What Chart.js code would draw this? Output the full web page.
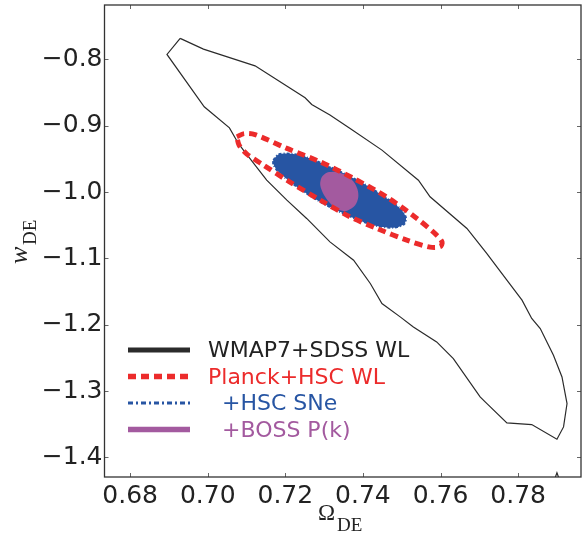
<!DOCTYPE html>
<html><head><meta charset="utf-8">
<script src="https://cdn.jsdelivr.net/npm/chart.js@4.4.1/dist/chart.umd.min.js"></script>
<style>html,body{margin:0;padding:0;background:#fff;}#wrap{position:relative;width:585px;height:535px;}canvas{display:block;}</style>
</head><body><div id="wrap"><canvas id="c" width="585" height="535"></canvas></div>
<script>
// ---- data ----
const xTickValues = [0.68, 0.70, 0.72, 0.74, 0.76, 0.78];
const xTickLabels = ['0.68', '0.70', '0.72', '0.74', '0.76', '0.78'];
const yTickValues = [-1.4, -1.3, -1.2, -1.1, -1.0, -0.9, -0.8];
const yTickLabels = ['\u22121.4', '\u22121.3', '\u22121.2', '\u22121.1', '\u22121.0', '\u22120.9', '\u22120.8'];
const seriesLabels = ['WMAP7+SDSS WL', 'Planck+HSC WL', '  +HSC SNe', '  +BOSS P(k)'];

const wmapX = [0.6929,0.6989,0.7122,0.7251,0.7268,0.7315,0.7367,0.7449,0.7543,0.7573,0.7668,0.7719,0.7771,0.7810,0.7835,0.7857,0.7891,0.7913,0.7926,0.7917,0.7900,0.7835,0.7771,0.7715,0.7702,0.7633,0.7590,0.7530,0.7496,0.7449,0.7419,0.7376,0.7315,0.7255,0.7204,0.7152,0.7092,0.7079,0.7056,0.6991,0.6895,0.6929];
const wmapY = [-0.7683,-0.7845,-0.8097,-0.8579,-0.8679,-0.8840,-0.9041,-0.9368,-0.9821,-1.0072,-1.0549,-1.0926,-1.1329,-1.1630,-1.1906,-1.2057,-1.2460,-1.2787,-1.3189,-1.3541,-1.3727,-1.3505,-1.3481,-1.3164,-1.3089,-1.2510,-1.2259,-1.2033,-1.1882,-1.1680,-1.1379,-1.1027,-1.0751,-1.0398,-1.0122,-0.9821,-0.9368,-0.9267,-0.9032,-0.8715,-0.7925,-0.7683];
const wmapIslandX = [0.7894, 0.7900, 0.7906];
const wmapIslandY = [-1.4330, -1.4232, -1.4330];

const planckX = [0.7075,0.7094,0.7122,0.7204,0.7290,0.7376,0.7462,0.7539,0.7590,0.7604,0.7599,0.7573,0.7513,0.7436,0.7367,0.7290,0.7212,0.7140,0.7101,0.7081,0.7075];
const planckY = [-0.9167,-0.9119,-0.9134,-0.9342,-0.9545,-0.9795,-1.0077,-1.0398,-1.0650,-1.0756,-1.0824,-1.0831,-1.0726,-1.0549,-1.0374,-1.0122,-0.9851,-0.9579,-0.9428,-0.9293,-0.9167];

const sneX = [0.7169,0.7181,0.7212,0.7247,0.7315,0.7393,0.7462,0.7500,0.7511,0.7506,0.7479,0.7427,0.7359,0.7290,0.7230,0.7182,0.7169,0.7169];
const sneY = [-0.9519,-0.9436,-0.9421,-0.9459,-0.9620,-0.9846,-1.0097,-1.0273,-1.0394,-1.0484,-1.0537,-1.0499,-1.0348,-1.0148,-0.9922,-0.9695,-0.9579,-0.9519];

const bossX = [0.7328,0.7354,0.7375,0.7386,0.7388,0.7380,0.7359,0.7341,0.7318,0.7300,0.7290,0.7294,0.7308,0.7328];
const bossY = [-0.9695,-0.9738,-0.9836,-0.9956,-1.0077,-1.0198,-1.0281,-1.0273,-1.0183,-1.0047,-0.9896,-0.9775,-0.9707,-0.9695];

// ---- styles ----
const BLACK = '#2b2b2b', RED = '#ec2b2b', BLUE = '#2755a3', PURPLE = '#a35a9f';
const pts = (xs, ys) => xs.map((x, i) => ({x: x, y: ys[i]}));

const frameAndLegend = {
  id: 'frameAndLegend',
  afterDatasetsDraw(chart) {
    const ctx = chart.ctx, a = chart.chartArea;
    const xs = chart.scales.x, ys = chart.scales.y;
    ctx.save();
    // inward ticks
    ctx.strokeStyle = '#666'; ctx.lineWidth = 1;
    ctx.beginPath();
    xTickValues.forEach(v => {
      const px = Math.round(xs.getPixelForValue(v)) + 0.5;
      ctx.moveTo(px, a.bottom); ctx.lineTo(px, a.bottom - 4);
      ctx.moveTo(px, a.top); ctx.lineTo(px, a.top + 4);
    });
    yTickValues.forEach(v => {
      const py = Math.round(ys.getPixelForValue(v)) + 0.5;
      ctx.moveTo(a.left, py); ctx.lineTo(a.left + 4, py);
      ctx.moveTo(a.right, py); ctx.lineTo(a.right - 4, py);
    });
    ctx.stroke();
    // frame
    ctx.strokeStyle = '#333'; ctx.lineWidth = 1.3;
    ctx.strokeRect(a.left, a.top, a.right - a.left, a.bottom - a.top);

    // legend
    const rows = [
      {c: BLACK, t: '#222', w: 5, d: []},
      {c: RED, t: RED, w: 5.5, d: [8, 5]},
      {c: BLUE, t: BLUE, w: 3, d: [5, 3, 2, 3]},
      {c: PURPLE, t: PURPLE, w: 5.5, d: []}
    ];
    const base = [357, 383.5, 410, 436.5];
    ctx.font = '22px "DejaVu Sans"';
    ctx.textBaseline = 'alphabetic';
    rows.forEach((r, i) => {
      const y = base[i] - 7;
      ctx.strokeStyle = r.c; ctx.lineWidth = r.w; ctx.setLineDash(r.d); ctx.lineCap = 'butt';
      ctx.beginPath(); ctx.moveTo(128, y); ctx.lineTo(190, y); ctx.stroke();
      ctx.setLineDash([]);
      ctx.fillStyle = r.t;
      ctx.fillText(chart.data.datasets[i].label, 208, base[i]);
    });

    // axis titles
    ctx.fillStyle = '#222';
    ctx.font = '23px "Liberation Serif"';
    ctx.fillText('\u03A9', 318, 519.5);
    ctx.font = '19px "Liberation Serif"';
    ctx.fillText('DE', 337, 531);
    ctx.save();
    ctx.translate(26.7, 264);
    ctx.rotate(-Math.PI / 2);
    ctx.font = 'italic 26px "Liberation Serif"';
    ctx.fillText('w', 0, 0);
    ctx.font = '19px "Liberation Serif"';
    ctx.fillText('DE', 19, 9.5);
    ctx.restore();
    ctx.restore();
  }
};

new Chart(document.getElementById('c'), {
  type: 'scatter',
  data: {
    datasets: [
      {label: seriesLabels[0], data: pts(wmapX, wmapY), showLine: true, borderColor: BLACK, borderWidth: 1.2, pointRadius: 0, fill: false, tension: 0, order: 4},
      {label: seriesLabels[1], data: pts(planckX, planckY), showLine: true, borderColor: RED, borderWidth: 5, borderDash: [8, 5], pointRadius: 0, fill: false, tension: 0.3, order: 1},
      {label: seriesLabels[2], data: pts(sneX, sneY), showLine: true, borderColor: BLUE, backgroundColor: BLUE, borderWidth: 2, borderDash: [3, 2, 1, 2], pointRadius: 0, fill: 'shape', tension: 0.3, order: 3},
      {label: seriesLabels[3], data: pts(bossX, bossY), showLine: true, borderColor: 'rgba(0,0,0,0)', backgroundColor: PURPLE, borderWidth: 0, pointRadius: 0, fill: 'shape', tension: 0.3, order: 2},
      {label: '', data: pts(wmapIslandX, wmapIslandY), showLine: true, borderColor: BLACK, borderWidth: 1.2, pointRadius: 0, fill: false, tension: 0, order: 5}
    ]
  },
  options: {
    responsive: false, animation: false, devicePixelRatio: 1,
    layout: {padding: {left: 0, right: 4, top: 5, bottom: 0}},
    plugins: {legend: {display: false}, tooltip: {enabled: false}},
    scales: {
      x: {
        type: 'linear', position: 'bottom', min: 0.6734, max: 0.7962,
        grid: {display: false, drawTicks: false}, border: {display: false},
        afterBuildTicks: s => { s.ticks = xTickValues.map(v => ({value: v})); },
        afterFit: s => { s.height = 58; s.paddingLeft = 0; s.paddingRight = 0; },
        ticks: {callback: (v, i) => xTickLabels[i], color: '#222', font: {family: 'DejaVu Sans', size: 25}, padding: 4, maxRotation: 0, autoSkip: false}
      },
      y: {
        type: 'linear', position: 'left', min: -1.4296, max: -0.718,
        grid: {display: false, drawTicks: false}, border: {display: false},
        afterBuildTicks: s => { s.ticks = yTickValues.map(v => ({value: v})); },
        afterFit: s => { s.width = 104.5; s.paddingTop = 0; s.paddingBottom = 0; },
        ticks: {callback: (v, i) => yTickLabels[i], color: '#222', font: {family: 'DejaVu Sans', size: 25}, padding: 2, autoSkip: false}
      }
    }
  },
  plugins: [frameAndLegend]
});
</script></body></html>
